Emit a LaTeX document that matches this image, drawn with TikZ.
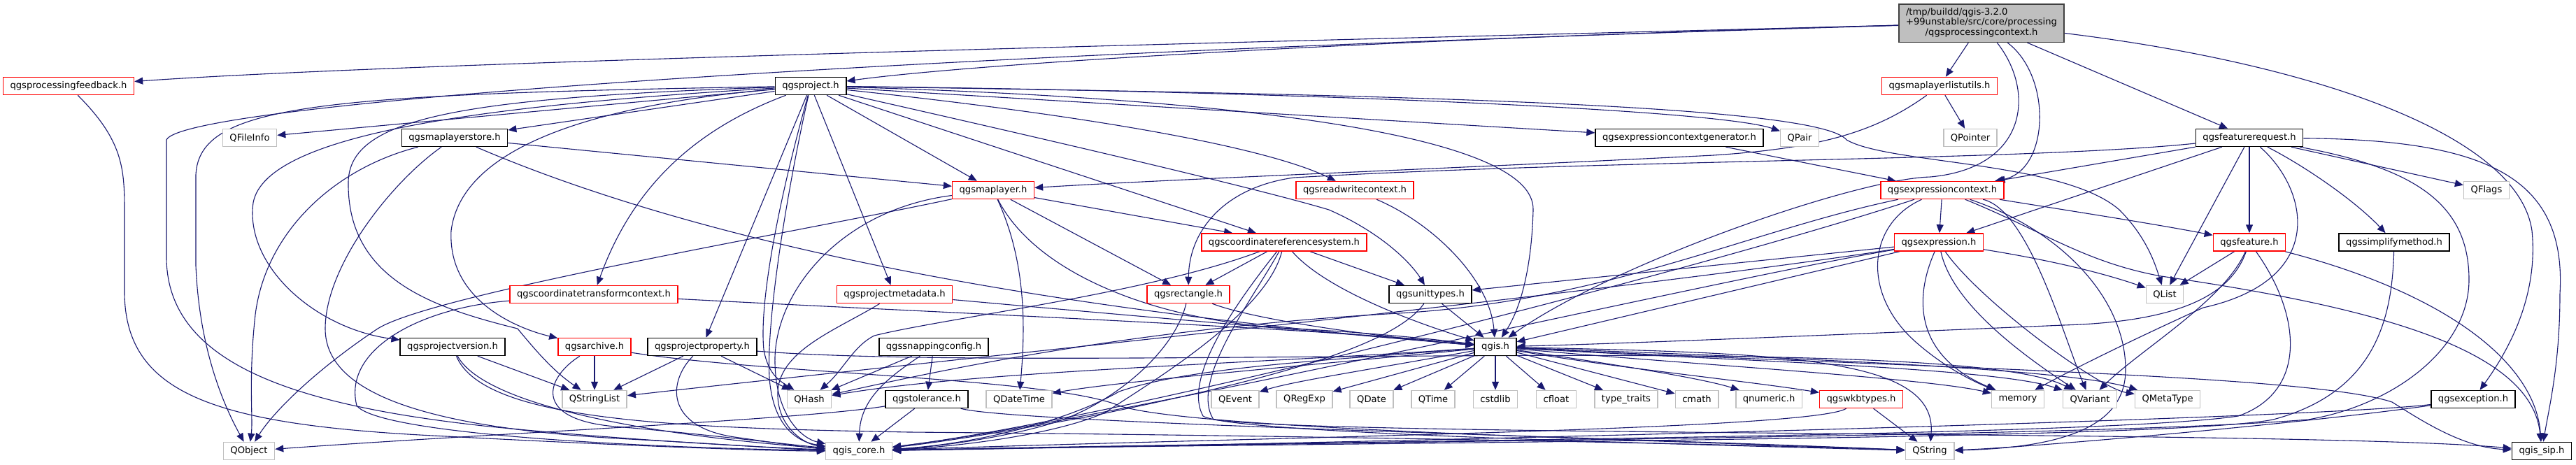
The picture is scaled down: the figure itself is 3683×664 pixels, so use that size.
\documentclass[tikz,border=0pt]{standalone}
\usepackage{fontspec}
\setmainfont{DejaVu Sans}
\usetikzlibrary{arrows.meta}
\definecolor{edgeblue}{HTML}{191970}
\definecolor{sysgray}{HTML}{BFBFBF}
\definecolor{mainfill}{HTML}{BFBFBF}
\definecolor{truncred}{HTML}{FF0000}
\pgfdeclarelayer{back}
\pgfsetlayers{back,main}
\tikzset{
  hdrbase/.style={
    rectangle,
    fill=white,
    minimum height=7.5mm,
    inner xsep=3mm,
    inner ysep=0pt,
    line width=0.45mm,
    font=\fontsize{11.2pt}{12.3pt}\selectfont
  },
  hdrnode/.style={hdrbase, draw=black},
  truncnode/.style={hdrbase, draw=truncred},
  sysnode/.style={hdrbase, draw=sysgray},
  mainnode/.style={hdrbase, draw=black!75, fill=mainfill, minimum height=16.35mm},
  incl/.style={
    -{Triangle[length=3.6mm,width=3mm]},
    draw=edgeblue,
    line width=0.33mm
  }
}
\begin{document}
\begin{tikzpicture}[x=0.3mm, y=-0.3mm]
\useasboundingbox (0,0) rectangle (3683,664);
\node[mainnode] (main) at (2833,33) {\begin{tabular}{@{}l@{}}/tmp/buildd/qgis-3.2.0\\+99unstable/src/core/processing\\\multicolumn{1}{@{}c@{}}{/qgsprocessingcontext.h}\end{tabular}};
\node[truncnode] (feedback) at (98,123) {qgsprocessingfeedback.h};
\node[hdrnode] (project) at (1159,123) {qgsproject.h};
\node[truncnode] (mllutils) at (2773,123) {qgsmaplayerlistutils.h};
\node[sysnode] (fileinfo) at (357,197) {QFileInfo};
\node[hdrnode] (mlstore) at (650,197) {qgsmaplayerstore.h};
\node[hdrnode] (ecgen) at (2401,197) {qgsexpressioncontextgenerator.h};
\node[sysnode] (qpair) at (2573,197) {QPair};
\node[sysnode] (qpointer) at (2817,197) {QPointer};
\node[hdrnode] (freq) at (3216,197) {qgsfeaturerequest.h};
\node[truncnode] (maplayer) at (1420,272) {qgsmaplayer.h};
\node[truncnode] (rwctx) at (1937,272) {qgsreadwritecontext.h};
\node[truncnode] (ectx) at (2777,272) {qgsexpressioncontext.h};
\node[sysnode] (qflags) at (3555,272) {QFlags};
\node[truncnode] (crs) at (1836,346.5) {qgscoordinatereferencesystem.h};
\node[truncnode] (expr) at (2772,346.5) {qgsexpression.h};
\node[truncnode] (feature) at (3216,346.5) {qgsfeature.h};
\node[hdrnode] (simplify) at (3423,346.5) {qgssimplifymethod.h};
\node[truncnode] (ctctx) at (849,421) {qgscoordinatetransformcontext.h};
\node[truncnode] (pmeta) at (1279,421) {qgsprojectmetadata.h};
\node[truncnode] (rect) at (1699,421) {qgsrectangle.h};
\node[hdrnode] (units) at (2045,421) {qgsunittypes.h};
\node[sysnode] (qlist) at (3095,421) {QList};
\node[hdrnode] (pversion) at (647,496) {qgsprojectversion.h};
\node[truncnode] (archive) at (850,496) {qgsarchive.h};
\node[hdrnode] (pprop) at (1004,496) {qgsprojectproperty.h};
\node[hdrnode] (snapping) at (1335,496) {qgssnappingconfig.h};
\node[hdrnode] (qgis) at (2138,496) {qgis.h};
\node[sysnode] (qstringlist) at (850,571) {QStringList};
\node[sysnode] (qhash) at (1157,571) {QHash};
\node[hdrnode] (tolerance) at (1325,571) {qgstolerance.h};
\node[sysnode] (qdatetime) at (1457,571) {QDateTime};
\node[sysnode] (qevent) at (1766,571) {QEvent};
\node[sysnode] (qregexp) at (1865,571) {QRegExp};
\node[sysnode] (qdate) at (1961,571) {QDate};
\node[sysnode] (qtime) at (2049,571) {QTime};
\node[sysnode] (cstdlib) at (2138,571) {cstdlib};
\node[sysnode] (cfloat) at (2225,571) {cfloat};
\node[sysnode] (typetraits) at (2325,571) {type\_traits};
\node[sysnode] (cmath) at (2426,571) {cmath};
\node[sysnode] (qnumeric) at (2529,571) {qnumeric.h};
\node[truncnode] (wkb) at (2661,571) {qgswkbtypes.h};
\node[sysnode] (memory) at (2885,571) {memory};
\node[sysnode] (qvariant) at (2988,571) {QVariant};
\node[sysnode] (qmetatype) at (3099,571) {QMetaType};
\node[hdrnode] (exception) at (3536,571) {qgsexception.h};
\node[sysnode] (qobject) at (356,645) {QObject};
\node[sysnode] (qgiscore) at (1228,645) {qgis\_core.h};
\node[sysnode] (qstring) at (2759,645) {QString};
\node[hdrnode] (qgissip) at (3634,645) {qgis\_sip.h};
\begin{pgfonlayer}{back}
\fill[white] (0,0) rectangle (3683,664);
\draw[incl] (main) .. controls (1800,60) and (600,88) .. (feedback);
\draw[incl] (main) .. controls (2000,55) and (1400,90) .. (project);
\draw[incl] (main) .. controls (1200,80) and (260,150) .. (238,200) -- (238,370) .. controls (240,520) and (420,580) .. (700,610) .. controls (900,630) and (1100,640) .. (qgiscore);
\draw[incl] (main) -- (mllutils);
\draw[incl] (main) .. controls (2935,110) and (2930,245) .. (ectx);
\draw[incl] (main) .. controls (2910,130) and (2900,240) .. (2760,253) .. controls (2650,256) and (2300,380) .. (qgis);
\draw[incl] (main) -- (freq);
\draw[incl] (main) .. controls (3300,90) and (3600,190) .. (3620,330) .. controls (3630,430) and (3580,510) .. (exception);
\draw[incl] (feedback) .. controls (175,200) and (178,240) .. (178,300) -- (178,420) .. controls (180,560) and (300,605) .. (600,622) .. controls (900,638) and (1100,645) .. (qgiscore);
\draw[incl] (project) .. controls (450,135) and (285,150) .. (280,250) -- (280,380) .. controls (285,500) and (320,580) .. (qobject);
\draw[incl] (project) -- (fileinfo);
\draw[incl] (project) .. controls (700,150) and (380,190) .. (362,290) .. controls (350,380) and (450,470) .. (pversion);
\draw[incl] (project) .. controls (980,190) and (900,280) .. (ctctx);
\draw[incl] (project) .. controls (850,150) and (660,210) .. (645,330) .. controls (640,430) and (740,470) .. (archive);
\draw[incl] (project) -- (pprop);
\draw[incl] (project) -- (pmeta);
\draw[incl] (project) -- (mlstore);
\draw[incl] (project) -- (maplayer);
\draw[incl] (project) -- (crs);
\draw[incl] (project) .. controls (1600,170) and (1820,215) .. (rwctx);
\draw[incl] (project) .. controls (1500,200) and (1800,270) .. (1900,300) .. controls (1980,335) and (2020,380) .. (units);
\draw[incl] (project) .. controls (1750,140) and (2195,190) .. (2192,300) .. controls (2190,380) and (2175,440) .. (qgis);
\draw[incl] (project) -- (ecgen);
\draw[incl] (project) .. controls (1800,130) and (2450,155) .. (qpair);
\draw[incl] (project) .. controls (2000,135) and (2600,150) .. (2640,200) .. controls (2700,235) and (2950,230) .. (3030,300) .. controls (3070,340) and (3082,380) .. (qlist);
\draw[incl] (project) .. controls (1115,280) and (1085,430) .. (1092,500) .. controls (1098,535) and (1115,545) .. (qhash);
\draw[incl] (project) .. controls (1130,250) and (1095,450) .. (1100,540) .. controls (1105,610) and (1140,632) .. (qgiscore);
\draw[incl] (project) .. controls (650,140) and (500,170) .. (498,260) .. controls (496,400) and (620,440) .. (740,470) .. controls (765,500) and (790,530) .. (qstringlist);
\draw[incl] (mllutils) -- (qpointer);
\draw[incl] (mllutils) .. controls (2680,190) and (2600,212) .. (2450,222) .. controls (2100,240) and (1700,255) .. (maplayer);
\draw[incl] (mlstore) -- (maplayer);
\draw[incl] (mlstore) .. controls (480,240) and (380,330) .. (365,450) .. controls (355,540) and (362,600) .. (qobject);
\draw[incl] (mlstore) .. controls (560,260) and (465,380) .. (465,470) .. controls (465,560) and (600,612) .. (900,628) .. controls (1050,636) and (1120,642) .. (qgiscore);
\draw[incl] (mlstore) .. controls (1100,390) and (1700,460) .. (qgis);
\draw[incl] (ecgen) -- (ectx);
\draw[incl] (freq) -- (ectx);
\draw[incl] (freq) -- (expr);
\draw[incl] (freq) .. controls (2900,230) and (2300,228) .. (1850,254) .. controls (1750,268) and (1700,330) .. (rect);
\draw[incl] (freq) -- (qlist);
\draw[incl] (freq) -- (feature);
\draw[incl] (freq) .. controls (3300,240) and (3370,290) .. (simplify);
\draw[incl] (freq) -- (qflags);
\draw[incl] (freq) .. controls (3550,200) and (3670,250) .. (3660,420) .. controls (3660,520) and (3645,580) .. (qgissip);
\draw[incl] (freq) .. controls (3300,270) and (3330,400) .. (3150,440) .. controls (3040,490) and (2960,530) .. (memory);
\draw[incl] (freq) .. controls (3450,240) and (3530,290) .. (3530,400) .. controls (3530,500) and (3420,580) .. (3300,600) .. controls (3000,625) and (2000,630) .. (qgiscore);
\draw[incl] (feature) -- (qlist);
\draw[incl] (feature) .. controls (3180,430) and (3060,500) .. (qvariant);
\draw[incl] (feature) .. controls (3190,420) and (3120,460) .. (2950,465) .. controls (2600,480) and (2300,492) .. (qgis);
\draw[incl] (feature) .. controls (3290,450) and (3300,560) .. (3200,595) .. controls (3000,625) and (1900,630) .. (qgiscore);
\draw[incl] (feature) .. controls (3500,420) and (3625,520) .. (qgissip);
\draw[incl] (simplify) .. controls (3420,450) and (3400,560) .. (3250,600) .. controls (3100,630) and (1900,632) .. (qgiscore);
\draw[incl] (exception) .. controls (3300,600) and (1900,635) .. (qgiscore);
\draw[incl] (exception) .. controls (3300,605) and (2900,640) .. (qstring);
\draw[incl] (ectx) -- (expr);
\draw[incl] (ectx) .. controls (2950,300) and (3080,320) .. (feature);
\draw[incl] (ectx) .. controls (2500,330) and (2300,430) .. (2000,448) .. controls (1600,470) and (1300,540) .. (qhash);
\draw[incl] (ectx) .. controls (2450,380) and (1600,600) .. (qgiscore);
\draw[incl] (ectx) .. controls (2670,320) and (2660,420) .. (2740,490) .. controls (2780,525) and (2820,545) .. (memory);
\draw[incl] (ectx) .. controls (2900,300) and (2950,480) .. (qvariant);
\draw[incl] (ectx) .. controls (2950,330) and (3040,430) .. (3039,530) .. controls (3038,610) and (2950,640) .. (qstring);
\draw[incl] (ectx) .. controls (2920,330) and (2980,375) .. (3090,395) .. controls (3400,440) and (3620,500) .. (qgissip);
\draw[incl] (expr) .. controls (2950,375) and (3020,395) .. (qlist);
\draw[incl] (expr) -- (units);
\draw[incl] (expr) -- (qgis);
\draw[incl] (expr) .. controls (2300,420) and (1300,520) .. (qstringlist);
\draw[incl] (expr) .. controls (2450,400) and (1600,600) .. (qgiscore);
\draw[incl] (expr) .. controls (2790,430) and (2880,500) .. (qvariant);
\draw[incl] (expr) .. controls (2830,430) and (3000,555) .. (qmetatype);
\draw[incl] (expr) .. controls (2735,430) and (2740,510) .. (memory);
\draw[incl] (units) -- (qgis);
\draw[incl] (units) .. controls (1990,500) and (1780,550) .. (1560,595) .. controls (1450,615) and (1350,632) .. (qgiscore);
\draw[incl] (qgis) -- (qregexp);
\draw[incl] (qgis) -- (qdate);
\draw[incl] (qgis) -- (qtime);
\draw[incl] (qgis) -- (cstdlib);
\draw[incl] (qgis) -- (cfloat);
\draw[incl] (qgis) -- (typetraits);
\draw[incl] (qgis) -- (cmath);
\draw[incl] (qgis) .. controls (2300,520) and (2430,540) .. (qnumeric);
\draw[incl] (qgis) .. controls (2300,525) and (2500,545) .. (wkb);
\draw[incl] (qgis) .. controls (2400,520) and (2750,540) .. (memory);
\draw[incl] (qgis) .. controls (2450,515) and (2850,525) .. (qvariant);
\draw[incl] (qgis) .. controls (2500,510) and (2950,525) .. (qmetatype);
\draw[incl] (qgis) .. controls (2550,505) and (2770,510) .. (qstring);
\draw[incl] (qgis) .. controls (2700,525) and (3300,535) .. (3420,575) .. controls (3460,600) and (3520,640) .. (qgissip);
\draw[incl] (qgis) .. controls (1900,515) and (1700,525) .. (1600,560) .. controls (1530,600) and (1400,635) .. (qgiscore);
\draw[incl] (qgis) .. controls (1900,520) and (1600,545) .. (qdatetime);
\draw[incl] (qgis) .. controls (1950,530) and (1850,545) .. (qevent);
\draw[incl] (qgis) .. controls (1800,520) and (1400,530) .. (qhash);
\draw[incl] (rwctx) .. controls (2050,320) and (2130,400) .. (qgis);
\draw[incl] (crs) -- (rect);
\draw[incl] (crs) -- (units);
\draw[incl] (crs) .. controls (1900,420) and (2050,470) .. (qgis);
\draw[incl] (crs) .. controls (1810,450) and (1640,550) .. (1580,590) .. controls (1500,625) and (1350,640) .. (qgiscore);
\draw[incl] (crs) .. controls (1640,420) and (1350,455) .. (1250,480) .. controls (1220,495) and (1205,530) .. (qhash);
\draw[incl] (crs) .. controls (1770,430) and (1690,540) .. (1720,595) .. controls (1760,620) and (2400,635) .. (qstring);
\draw[incl] (crs) .. controls (1790,430) and (1700,545) .. (1735,600) .. controls (1900,625) and (3300,615) .. (qgissip);
\draw[incl] (maplayer) -- (crs);
\draw[incl] (maplayer) -- (rect);
\draw[incl] (maplayer) .. controls (1480,390) and (1650,460) .. (1850,470) .. controls (1950,475) and (2050,485) .. (qgis);
\draw[incl] (maplayer) .. controls (1470,380) and (1465,480) .. (qdatetime);
\draw[incl] (maplayer) .. controls (1150,330) and (620,420) .. (540,470) .. controls (450,530) and (390,590) .. (qobject);
\draw[incl] (maplayer) .. controls (1200,300) and (1105,420) .. (1108,520) .. controls (1110,600) and (1150,628) .. (qgiscore);
\draw[incl] (rect) .. controls (1800,460) and (2000,485) .. (qgis);
\draw[incl] (rect) .. controls (1680,500) and (1600,570) .. (1520,600) .. controls (1450,625) and (1330,640) .. (qgiscore);
\draw[incl] (ctctx) .. controls (1300,445) and (1900,470) .. (qgis);
\draw[incl] (ctctx) .. controls (600,440) and (490,500) .. (510,580) .. controls (540,620) and (900,640) .. (qgiscore);
\draw[incl] (pmeta) .. controls (1600,450) and (1950,480) .. (qgis);
\draw[incl] (pmeta) .. controls (1200,470) and (1115,500) .. (1112,560) .. controls (1110,610) and (1150,635) .. (qgiscore);
\draw[incl] (pversion) -- (qstringlist);
\draw[incl] (pversion) .. controls (690,575) and (900,620) .. (qgiscore);
\draw[incl] (pversion) .. controls (690,600) and (950,612) .. (1300,618) .. controls (1800,622) and (2500,635) .. (qstring);
\draw[incl] (archive) -- (qstringlist);
\draw[incl] (archive) .. controls (780,540) and (760,600) .. (880,610) .. controls (1000,620) and (1120,635) .. (qgiscore);
\draw[incl] (archive) .. controls (1100,535) and (1500,540) .. (1600,580) .. controls (1700,615) and (2400,630) .. (qstring);
\draw[incl] (pprop) -- (qstringlist);
\draw[incl] (pprop) -- (qhash);
\draw[incl] (pprop) .. controls (955,545) and (950,610) .. (1050,625) .. controls (1100,632) and (1150,640) .. (qgiscore);
\draw[incl] (pprop) .. controls (1500,535) and (2800,470) .. (qvariant);
\draw[incl] (snapping) -- (tolerance);
\draw[incl] (snapping) -- (qhash);
\draw[incl] (snapping) .. controls (1270,540) and (1230,570) .. (qgiscore);
\draw[incl] (tolerance) -- (qgiscore);
\draw[incl] (tolerance) .. controls (1150,600) and (700,620) .. (qobject);
\draw[incl] (tolerance) .. controls (1450,605) and (2300,625) .. (qstring);
\draw[incl] (wkb) -- (qstring);
\draw[incl] (wkb) .. controls (2590,615) and (1800,625) .. (qgiscore);
\end{pgfonlayer}
\end{tikzpicture}
\end{document}
